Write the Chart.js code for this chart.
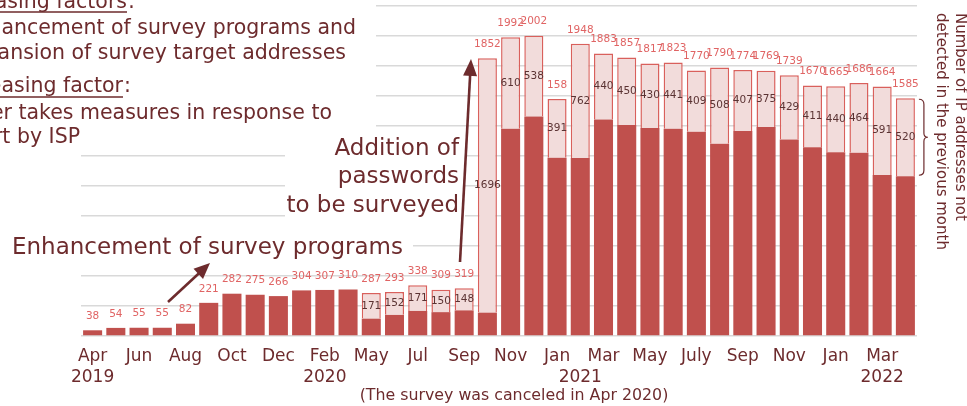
<!DOCTYPE html>
<html>
<head>
<meta charset="utf-8">
<script src="https://cdn.jsdelivr.net/npm/chart.js@4.4.1/dist/chart.umd.min.js"></script>
<style>
  html, body { margin: 0; padding: 0; background: #fff; }
  #wrap { position: relative; width: 967px; height: 406px; }
</style>
</head>
<body>
<div id="wrap"><canvas id="ipChart"></canvas></div>
<script>
// Apr 2019 - Apr 2022, Apr 2020 is missing (survey canceled)
const monthLabels = ['Apr','','Jun','','Aug','','Oct','','Dec','','Feb','',
  'May','','Jul','','Sep','','Nov','','Jan','','Mar','','May','','July','','Sep','','Nov','','Jan','','Mar',''];
const yearLabels = ['2019','','','','','','','','','','2020','',
  '','','','','','','','','','2021','','','','','','','','','','','','','2022',''];

// totals shown above the bars
const totals = [38,54,55,55,82,221,282,275,266,304,307,310,
  287,293,338,309,319,1852,1992,2002,1580,1948,1883,1857,1817,1823,1770,1790,1774,1769,1739,1670,1665,1686,1664,1585];
// dark part: addresses already detected in the previous month
const seenBefore = [38,54,55,55,82,221,282,275,266,304,307,310,
  116,141,167,159,171,156,1382,1464,1189,1186,1443,1407,1387,1382,1361,1282,1367,1394,1310,1259,1225,1222,1073,1065];
// light part: addresses not detected in the previous month
const notSeenBefore = [0,0,0,0,0,0,0,0,0,0,0,0,
  171,152,171,150,148,1696,610,538,391,762,440,450,430,441,409,508,407,375,429,411,440,464,591,520];

const totalLabels = totals.map(String);
totalLabels[20] = '158'; // label is cut like this in the source

const maroon = '#6d2b2d';
const FONT = 'DejaVu Sans';

function arrow(ctx, x1, y1, x2, y2, head, half) {
  const a = Math.atan2(y2 - y1, x2 - x1);
  const c = Math.cos(a), s = Math.sin(a);
  ctx.beginPath();
  ctx.moveTo(x1, y1);
  ctx.lineTo(x2 - head * 0.8 * c, y2 - head * 0.8 * s);
  ctx.stroke();
  ctx.beginPath();
  ctx.moveTo(x2, y2);
  ctx.lineTo(x2 - head * c + half * s, y2 - head * s - half * c);
  ctx.lineTo(x2 - head * c - half * s, y2 - head * s + half * c);
  ctx.closePath();
  ctx.fill();
}

const notes = {
  id: 'notes',
  beforeDatasetsDraw(chart) {
    const ctx = chart.ctx;
    ctx.save();
    // text boxes hide the grid
    ctx.fillStyle = '#fff';
    ctx.fillRect(0, 0, 376, 145);
    ctx.fillRect(285, 132, 180, 90);
    ctx.fillRect(0, 228, 413, 34);

    ctx.fillStyle = maroon;
    ctx.strokeStyle = maroon;
    ctx.textBaseline = 'alphabetic';

    // factors block (runs off the left edge)
    ctx.font = '20.5px ' + FONT;
    ctx.textAlign = 'right';
    ctx.fillText('Increasing factors', 127, 8);
    ctx.fillText('・Enhancement of survey programs and', 356, 34);
    ctx.fillText('expansion of survey target addresses', 346, 59);
    ctx.fillText('Decreasing factor', 123, 92);
    ctx.fillText('・User takes measures in response to', 332, 119);
    ctx.fillText('alert by ISP', 80, 143);
    ctx.textAlign = 'left';
    ctx.fillText(':', 128, 8);
    ctx.fillText(':', 124, 92);
    ctx.lineWidth = 1.3;
    ctx.beginPath();
    ctx.moveTo(0, 12); ctx.lineTo(127, 12);
    ctx.moveTo(0, 97); ctx.lineTo(123, 97);
    ctx.stroke();

    ctx.font = '23px ' + FONT;
    ctx.textAlign = 'right';
    ctx.fillText('Addition of', 459, 155);
    ctx.fillText('passwords', 459, 183);
    ctx.fillText('to be surveyed', 459, 212);
    ctx.textAlign = 'left';
    ctx.fillText('Enhancement of survey programs', 12, 254);

    ctx.font = '15.8px ' + FONT;
    ctx.textAlign = 'center';
    ctx.fillText('(The survey was canceled in Apr 2020)', 514, 400);
    ctx.restore();
  },
  afterDatasetsDraw(chart) {
    const ctx = chart.ctx;
    const y = chart.scales.y;
    const bars = chart.getDatasetMeta(0).data;
    ctx.save();
    ctx.textAlign = 'center';
    ctx.textBaseline = 'middle';
    bars.forEach((bar, i) => {
      ctx.font = '10.5px ' + FONT;
      ctx.fillStyle = '#e06464';
      ctx.fillText(totalLabels[i], bar.x, y.getPixelForValue(totals[i]) - 14);
      if (notSeenBefore[i] > 0) {
        ctx.fillStyle = '#5b3333';
        ctx.fillText(String(notSeenBefore[i]), bar.x, y.getPixelForValue(seenBefore[i] + notSeenBefore[i] / 2));
      }
    });

    ctx.fillStyle = maroon;
    ctx.strokeStyle = maroon;
    ctx.lineWidth = 2.6;
    arrow(ctx, 460, 262, 471, 59, 17, 7);
    arrow(ctx, 168, 302, 210, 263, 16, 7);

    // brace next to the last bar's light part
    const last = bars.length - 1;
    const bx = bars[last].x + bars[last].width / 2 + 4;
    const t = y.getPixelForValue(totals[last]) + 1;
    const b = y.getPixelForValue(seenBefore[last]) - 1;
    const m = (t + b) / 2;
    ctx.lineWidth = 1.2;
    ctx.beginPath();
    ctx.moveTo(bx, t);
    ctx.quadraticCurveTo(bx + 5, t, bx + 5, t + 5);
    ctx.lineTo(bx + 5, m - 4);
    ctx.quadraticCurveTo(bx + 5, m, bx + 9, m);
    ctx.quadraticCurveTo(bx + 5, m, bx + 5, m + 4);
    ctx.lineTo(bx + 5, b - 5);
    ctx.quadraticCurveTo(bx + 5, b, bx, b);
    ctx.stroke();

    // side caption, rotated
    ctx.font = '15px ' + FONT;
    ctx.textAlign = 'left';
    ctx.save();
    ctx.translate(960, 13);
    ctx.rotate(Math.PI / 2);
    ctx.fillText('Number of IP addresses not', 0, 0);
    ctx.restore();
    ctx.save();
    ctx.translate(941, 13);
    ctx.rotate(Math.PI / 2);
    ctx.fillText('detected in the previous month', 0, 0);
    ctx.restore();
    ctx.restore();
  }
};

const ctx = document.getElementById('ipChart').getContext('2d');
new Chart(ctx, {
  type: 'bar',
  data: {
    labels: monthLabels.map((m, i) => [m, yearLabels[i]]),
    datasets: [{
      label: 'Detected in the previous month',
      data: seenBefore,
      backgroundColor: '#c0504d',
      borderWidth: 0,
      stack: 'ip'
    }, {
      label: 'Not detected in the previous month',
      data: notSeenBefore.map(v => v || null),
      backgroundColor: '#f2dcdb',
      borderColor: '#d9605c',
      borderWidth: 1.5,
      borderSkipped: 'bottom',
      stack: 'ip'
    }]
  },
  options: {
    responsive: true,
    maintainAspectRatio: false,
    animation: false,
    barPercentage: 0.82,
    categoryPercentage: 1.0,
    layout: { padding: { left: 81, right: 50, top: 6, bottom: 0 } },
    scales: {
      x: {
        stacked: true,
        grid: { display: false, drawTicks: false },
        border: { display: false },
        ticks: {
          autoSkip: false,
          maxRotation: 0,
          padding: 10,
          color: maroon,
          font: { family: FONT, size: 17, lineHeight: 1.25 }
        },
        afterFit(scale) { scale.height = 70; }
      },
      y: {
        stacked: true,
        min: 0,
        max: 2200,
        ticks: { display: false, stepSize: 200 },
        grid: { color: '#d9d9d9', lineWidth: 1.5, drawTicks: false },
        border: { display: false },
        afterFit(scale) { scale.width = 0; }
      }
    },
    plugins: {
      legend: { display: false },
      title: { display: false },
      tooltip: { enabled: false }
    }
  },
  plugins: [notes]
});
</script>
</body>
</html>
